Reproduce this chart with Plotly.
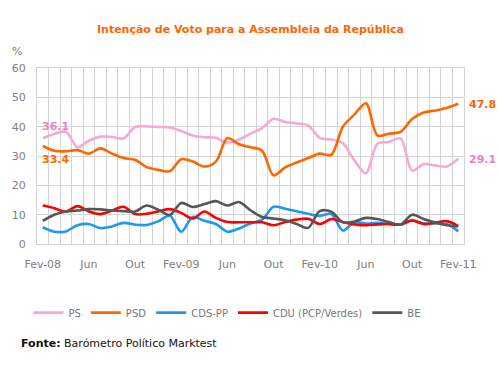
import plotly.graph_objects as go

months = ["Fev-08", "Mar-08", "Abr-08", "Mai-08", "Jun-08", "Jul-08", "Ago-08", "Set-08", "Out-08", "Nov-08", "Dez-08", "Jan-09",
          "Fev-09", "Mar-09", "Abr-09", "Mai-09", "Jun-09", "Jul-09", "Ago-09", "Set-09", "Out-09", "Nov-09", "Dez-09", "Jan-10",
          "Fev-10", "Mar-10", "Abr-10", "Mai-10", "Jun-10", "Jul-10", "Ago-10", "Set-10", "Out-10", "Nov-10", "Dez-10", "Jan-11",
          "Fev-11"]

tick_idx = [0, 4, 8, 12, 16, 20, 24, 28, 32, 36]
tick_labels = ["Fev-08", "Jun", "Out", "Fev-09", "Jun", "Out", "Fev-10", "Jun", "Out", "Fev-11"]

ps = [36.1, 37.5, 38.3, 33.0, 35.2, 36.6, 36.5, 36.0, 39.9, 40.1, 39.9, 39.7,
      38.5, 37.0, 36.4, 36.2, 34.6, 35.6, 37.6, 39.5, 42.7, 41.6, 41.1, 40.4,
      36.2, 35.6, 34.4, 28.5, 24.1, 34.2, 34.8, 36.0, 25.0, 27.2, 26.8, 26.4,
      29.1]
psd = [33.4, 31.8, 31.6, 32.0, 30.8, 32.6, 30.8, 29.3, 28.7, 26.2, 25.3, 24.8,
       28.9, 28.1, 26.4, 28.1, 36.1, 34.0, 33.0, 31.8, 23.4, 26.1, 27.8, 29.3,
       30.8, 30.4, 40.0, 44.1, 48.0, 37.0, 37.6, 38.2, 42.6, 44.8, 45.5, 46.4,
       47.8]
cds = [5.7, 4.2, 4.3, 6.4, 6.8, 5.4, 6.0, 7.2, 6.6, 6.5, 7.7, 9.6,
       4.2, 9.2, 7.9, 6.8, 4.2, 5.3, 7.0, 8.3, 12.7, 12.0, 11.2, 10.3,
       9.6, 10.2, 4.6, 7.4, 7.0, 7.2, 6.8, 6.6, 8.1, 7.0, 7.0, 6.8,
       4.3]
cdu = [13.1, 12.2, 11.0, 12.9, 11.1, 10.2, 11.4, 12.7, 10.2, 10.3, 11.1, 11.9,
       10.6, 8.7, 11.1, 8.9, 7.5, 7.4, 7.4, 7.4, 6.4, 7.5, 8.3, 8.6,
       6.8, 8.5, 7.5, 6.7, 6.4, 6.7, 6.8, 6.6, 8.0, 6.8, 7.3, 7.8,
       6.1]
be = [7.9, 10.0, 11.1, 11.4, 11.9, 11.8, 11.4, 11.2, 11.1, 13.1, 11.7, 9.9,
      14.0, 12.6, 13.6, 14.6, 13.1, 14.3, 11.5, 9.2, 8.7, 8.1, 6.8, 5.5,
      11.2, 11.0, 7.4, 7.7, 8.9, 8.5, 7.5, 6.6, 10.0, 8.5, 7.3, 6.4,
      6.0]

series_names = ["PS", "PSD", "CDS-PP", "CDU (PCP/Verdes)", "BE"]
series_values = [ps, psd, cds, cdu, be]
colors = ["#F7A8D3", "#FF6600", "#1E98F5", "#FF0000", "#575757"]

x = list(range(len(months)))
FONT = "DejaVu Sans"
GRID = "#D4D4D4"

fig = go.Figure()
for name, vals, col in zip(series_names, series_values, colors):
    fig.add_trace(go.Scatter(x=x, y=vals, name=name, mode="lines",
                             line=dict(color=col, width=2.6, shape="spline", smoothing=0.9),
                             customdata=months, hovertemplate="%{customdata}: %{y}<extra></extra>"))

label_style = dict(family=FONT, size=11)
ann = [
    dict(x=x[0], y=ps[0], text="<b>%.1f</b>" % ps[0], xanchor="left", yanchor="middle",
         xshift=-3, yshift=12, font=dict(color="#F080C0", **label_style)),
    dict(x=x[0], y=psd[0], text="<b>%.1f</b>" % psd[0], xanchor="left", yanchor="middle",
         xshift=-3, yshift=-13, font=dict(color="#FF6600", **label_style)),
    dict(x=x[-1], y=psd[-1], text="<b>%.1f</b>" % psd[-1], xanchor="left", yanchor="middle",
         xshift=9, yshift=-1, font=dict(color="#FF6600", **label_style)),
    dict(x=x[-1], y=ps[-1], text="<b>%.1f</b>" % ps[-1], xanchor="left", yanchor="middle",
         xshift=9, yshift=-1, font=dict(color="#F080C0", **label_style)),
]
for a in ann:
    a.update(xref="x", yref="y", showarrow=False)

ann.append(dict(xref="paper", yref="paper", x=-0.063, y=1.092, text="%", showarrow=False,
                xanchor="left", yanchor="middle", font=dict(family=FONT, size=11, color="#808080")))
ann.append(dict(xref="paper", yref="paper", x=-0.042, y=-0.5625,
                text="<b>Fonte:</b> Barómetro Político Marktest", showarrow=False,
                xanchor="left", yanchor="middle", font=dict(family=FONT, size=11, color="#111111")))

fig.update_layout(
    width=498, height=367,
    margin=dict(l=35, r=34, t=68, b=123),
    paper_bgcolor="white", plot_bgcolor="white",
    title=dict(text="<b>Intenção de Voto para a Assembleia da República</b>",
               x=0.5, xref="paper", y=1 - 29 / 367, yref="container", xanchor="center", yanchor="middle",
               font=dict(family=FONT, size=11, color="#FF6600")),
    legend=dict(orientation="h", x=-0.02, y=-0.39, xanchor="left", yanchor="middle",
                font=dict(family=FONT, size=10, color="#777777"), bgcolor="rgba(0,0,0,0)"),
    annotations=ann,
    showlegend=True,
)
fig.update_xaxes(range=[-0.5, len(months) - 0.5], tickmode="array", tickvals=tick_idx, ticktext=tick_labels,
                 showgrid=False, zeroline=False, ticks="", ticklabelstandoff=10,
                 showline=True, linecolor=GRID, mirror=True,
                 tickfont=dict(family=FONT, size=11, color="#808080"),
                 minor=dict(tick0=-0.5, dtick=1, showgrid=True, gridcolor=GRID, gridwidth=1, ticks=""))
fig.update_yaxes(range=[0, 60], dtick=10, showgrid=True, gridcolor=GRID, zeroline=False,
                 showline=True, linecolor=GRID, mirror=True, ticks="", ticklabelstandoff=8,
                 tickfont=dict(family=FONT, size=11, color="#808080"))

fig.write_html("out.html", config={"displayModeBar": False},
               post_script="document.body.style.margin='0px';document.body.style.padding='0px';")
